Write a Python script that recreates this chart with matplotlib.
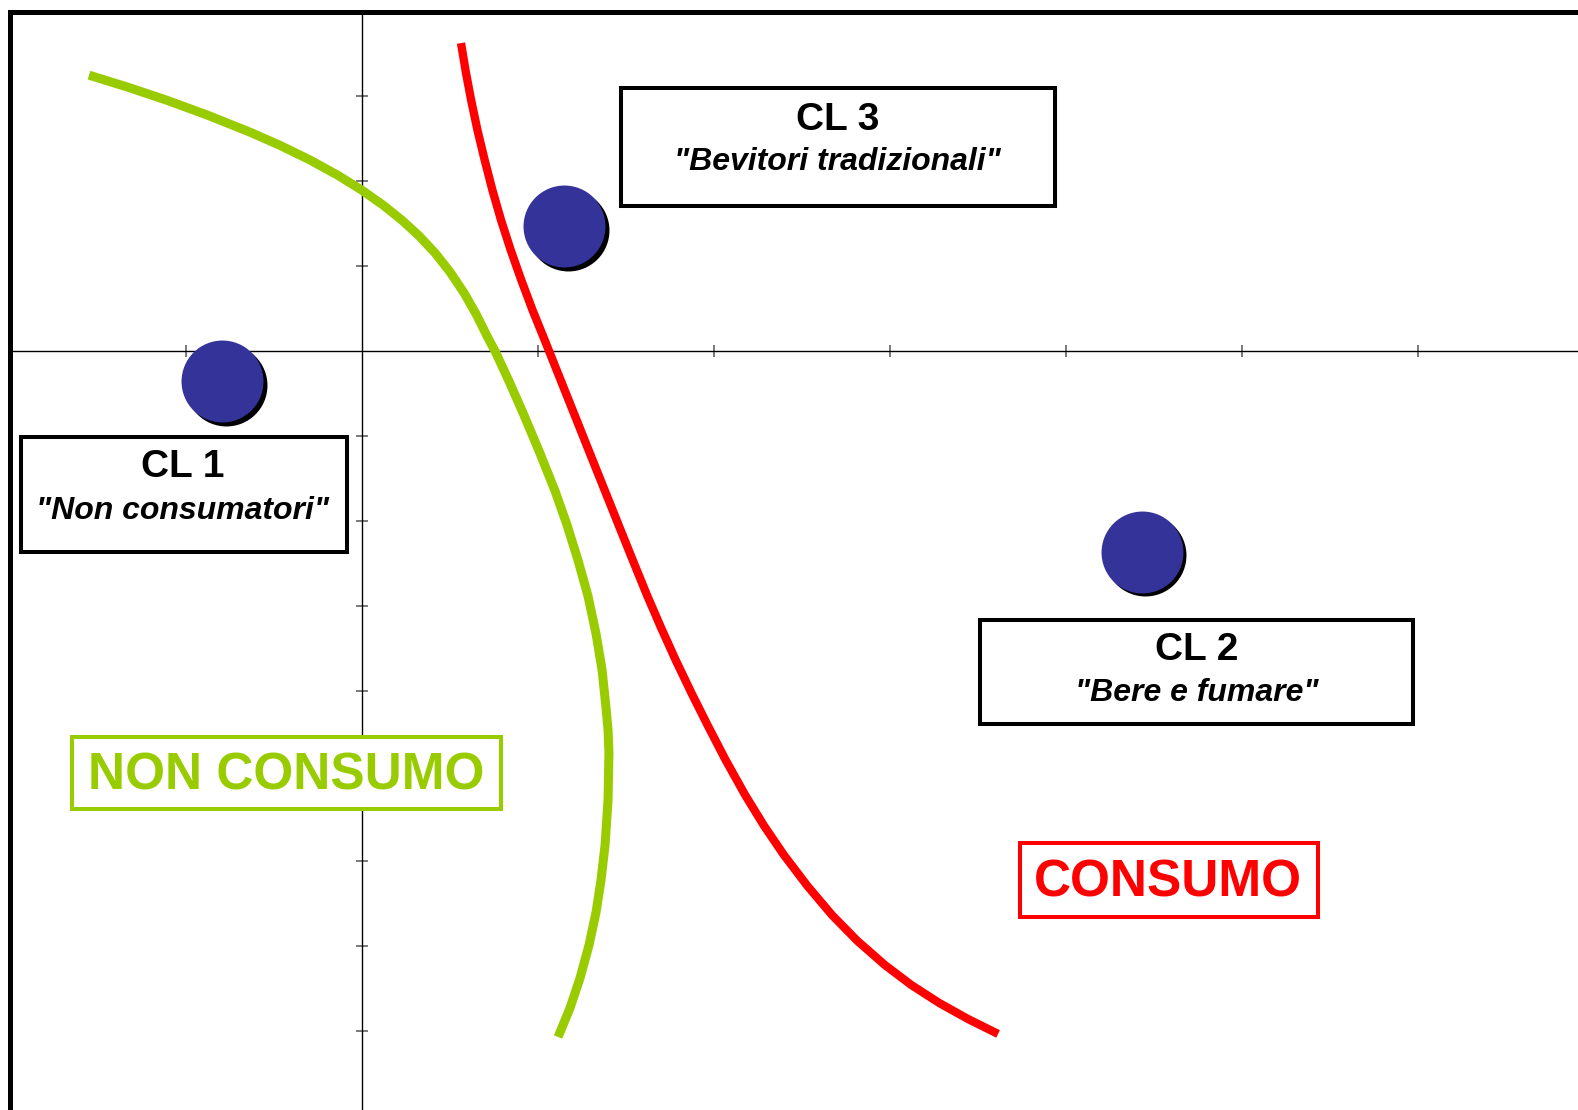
import matplotlib
matplotlib.use("Agg")
import matplotlib.pyplot as plt
from matplotlib.patches import Rectangle
from matplotlib.transforms import offset_copy

plt.rcParams["font.family"] = ["Liberation Sans", "DejaVu Sans"]

# -------------------------------------------------
# Data (units = one tick on each axis)
# -------------------------------------------------

cluster_names = ["CL 1", "CL 2", "CL 3"]
cluster_labels = ['"Non consumatori"', '"Bere e fumare"', '"Bevitori tradizionali"']
cluster_x = [-0.795, 4.43, 1.148]
cluster_y = [-0.353, -2.36, 1.47]

# boundary "non consumo" (green)
green_x = [-1.551, -1.330, -1.108, -0.875, -0.636, -0.466, -0.295, -0.136,
           0.0, 0.119, 0.227, 0.324, 0.415, 0.5, 0.580, 0.648, 0.716, 0.756,
           0.835, 0.915, 1.006, 1.097, 1.165, 1.227, 1.284, 1.330, 1.364,
           1.386, 1.398, 1.403, 1.398, 1.381, 1.358, 1.330, 1.290, 1.239,
           1.182, 1.114]
green_y = [3.247, 3.105, 2.951, 2.774, 2.576, 2.421, 2.248, 2.067,
           1.892, 1.719, 1.540, 1.356, 1.155, 0.931, 0.684, 0.436, 0.154, 0.0,
           -0.353, -0.729, -1.176, -1.647, -2.047, -2.459, -2.882, -3.329, -3.753,
           -4.188, -4.459, -4.729, -5.282, -5.812, -6.224, -6.6, -6.988, -7.376,
           -7.729, -8.071]

# boundary "consumo" (red)
red_x = [0.5625, 0.590, 0.620, 0.656, 0.697, 0.741, 0.790, 0.845, 0.905,
         0.969, 1.038, 1.106, 1.174, 1.242, 1.310, 1.383, 1.458, 1.538,
         1.619, 1.700, 1.782, 1.872, 1.963, 2.066, 2.177, 2.285, 2.397,
         2.531, 2.670, 2.815, 2.971, 3.121, 3.280, 3.443, 3.614]
red_y = [3.624, 3.282, 2.953, 2.6, 2.247, 1.894, 1.541, 1.188, 0.835,
         0.482, 0.129, -0.224, -0.576, -0.929, -1.282, -1.659, -2.047, -2.459,
         -2.871, -3.259, -3.635, -4.024, -4.4, -4.812, -5.224, -5.588, -5.929,
         -6.294, -6.635, -6.941, -7.224, -7.459, -7.671, -7.859, -8.035]

x_ticks = [-1, 1, 2, 3, 4, 5, 6]
y_ticks = [-8, -7, -6, -5, -4, -3, -2, -1, 1, 2, 3]

GREEN = "#99cc00"
RED = "#ff0000"
BLUE = "#333399"

# -------------------------------------------------
# Figure
# -------------------------------------------------

fig = plt.figure(figsize=(15.78, 11.10), dpi=100)
pos = [10 / 1578, 0, 1568 / 1578, 1098 / 1110]

# outer frame (left + top only)
frame = fig.add_axes(pos)
frame.set_xticks([])
frame.set_yticks([])
for side in ["right", "bottom"]:
    frame.spines[side].set_visible(False)
for side in ["left", "top"]:
    frame.spines[side].set_linewidth(3.6)
    frame.spines[side].set_color("black")

ax = fig.add_axes(pos)
ax.patch.set_alpha(0)
ax.set_xlim(-2, 6.909)
ax.set_ylim(-8.93, 3.99)

ax.spines["left"].set_position(("data", 0))
ax.spines["bottom"].set_position(("data", 0))
ax.spines["right"].set_visible(False)
ax.spines["top"].set_visible(False)
for side in ["left", "bottom"]:
    ax.spines[side].set_linewidth(1.0)

ax.set_xticks(x_ticks)
ax.set_yticks(y_ticks)
ax.tick_params(direction="inout", length=8.6, width=1.1, color="#555555",
               labelbottom=False, labelleft=False)

# boundaries
ax.plot(green_x, green_y, color=GREEN, lw=6.5, solid_capstyle="butt",
        solid_joinstyle="round", zorder=3)
ax.plot(red_x, red_y, color=RED, lw=6.0, solid_capstyle="butt",
        solid_joinstyle="round", zorder=3)

# clusters with shadow
shadow = offset_copy(ax.transData, fig=fig, x=3.5, y=-3.5, units="dots")
ax.plot(cluster_x, cluster_y, "o", ms=59, color="black", mec="none",
        transform=shadow, zorder=5)
ax.plot(cluster_x, cluster_y, "o", ms=59, color=BLUE, mec="none", zorder=6)

# cluster boxes: (x0, y0, width, height) and text anchors
box_pos = [(-1.94, -2.36, 1.855, 1.35),
           (3.51, -4.39, 2.46, 1.23),
           (1.47, 1.71, 2.47, 1.39)]
text_pos = [(-1.02, -1.366, -1.886),
            (4.74, -3.516, -4.026),
            (2.70, 2.724, 2.224)]

for name, label, b, t in zip(cluster_names, cluster_labels, box_pos, text_pos):
    ax.add_patch(Rectangle((b[0], b[1]), b[2], b[3], facecolor="white",
                           edgecolor="black", lw=2.9, zorder=4))
    ax.text(t[0], t[1], name, ha="center", va="center", fontsize=28,
            fontweight="bold", zorder=7)
    ax.text(t[0], t[2], label, ha="center", va="center", fontsize=23,
            fontweight="bold", fontstyle="italic", zorder=7)

# region labels
ax.add_patch(Rectangle((-1.645, -5.39), 2.435, 0.85, facecolor="white",
                       edgecolor=GREEN, lw=2.9, zorder=4))
ax.text(-0.43, -5.0, "NON CONSUMO", ha="center", va="center", fontsize=37,
        fontweight="bold", color=GREEN, zorder=7)

ax.add_patch(Rectangle((3.74, -6.66), 1.69, 0.87, facecolor="white",
                       edgecolor=RED, lw=2.9, zorder=4))
ax.text(4.58, -6.26, "CONSUMO", ha="center", va="center", fontsize=37,
        fontweight="bold", color=RED, zorder=7)

fig.savefig("out.png", dpi=100)
